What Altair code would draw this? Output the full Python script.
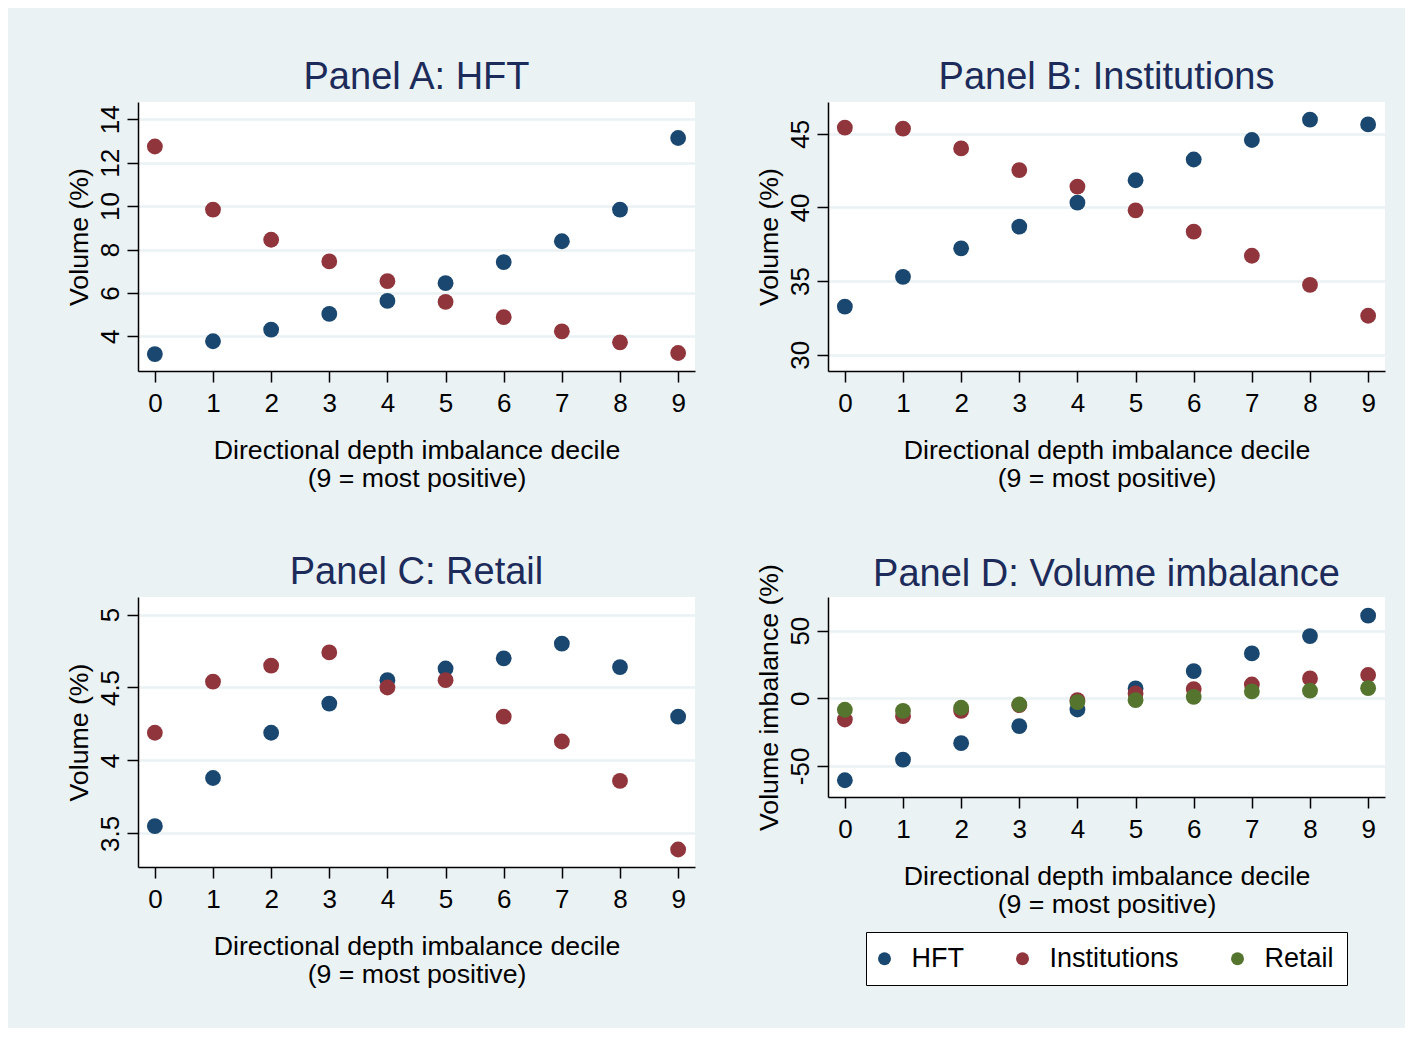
import altair as alt
import pandas as pd

deciles = list(range(10))
series_names = ["HFT", "Institutions", "Retail"]
series_colors = ["#1A476F", "#90353B", "#55752F"]

a_hft = [3.18, 3.77, 4.31, 5.03, 5.63, 6.45, 7.42, 8.38, 9.84, 13.14]
a_inst = [12.75, 9.84, 8.45, 7.45, 6.54, 5.59, 4.88, 4.23, 3.72, 3.23]
b_hft = [33.27, 35.29, 37.22, 38.69, 40.32, 41.84, 43.25, 44.57, 45.95, 45.63]
b_inst = [45.41, 45.34, 44.0, 42.53, 41.41, 39.80, 38.35, 36.72, 34.74, 32.65]
c_hft = [3.55, 3.88, 4.19, 4.39, 4.55, 4.63, 4.70, 4.80, 4.64, 4.30]
c_inst = [4.19, 4.54, 4.65, 4.74, 4.50, 4.55, 4.30, 4.13, 3.86, 3.39]
d_hft = [-60.6, -45.3, -33.2, -20.6, -8.3, 7.3, 20.1, 33.2, 46.0, 61.1]
d_inst = [-15.7, -13.2, -9.3, -5.1, -1.4, 3.6, 6.8, 10.2, 14.7, 17.2]
d_retail = [-8.5, -9.3, -7.0, -4.6, -2.8, -1.4, 1.1, 5.1, 5.6, 7.5]

a_ticks = [4, 6, 8, 10, 12, 14]
b_ticks = [30, 35, 40, 45]
c_ticks = [3.5, 4, 4.5, 5]
d_ticks = [-50, 0, 50]

x_title = ["Directional depth imbalance decile", "(9 = most positive)"]
FONT = "Liberation Sans"
BG = "#EAF2F3"
TITLE_COLOR = "#1C2B5A"


def make_df(pairs):
    rows = []
    for name, vals in pairs:
        for d, v in zip(deciles, vals):
            rows.append({"decile": d, "value": v, "series": name})
    return pd.DataFrame(rows)


color_scale = alt.Scale(domain=series_names, range=series_colors)


def panel(df, title, ytitle, ydomain, yticks, height, title_offset=5, legend=None):
    return alt.Chart(df).mark_circle(size=250, opacity=1).encode(
        x=alt.X("decile:Q",
                scale=alt.Scale(domain=[-0.29, 9.29], nice=False, zero=False),
                axis=alt.Axis(values=deciles, title=x_title, grid=False,
                              labelPadding=8, titlePadding=21,
                              labelExpr="datum.value + ''")),
        y=alt.Y("value:Q",
                scale=alt.Scale(domain=ydomain, nice=False, zero=False),
                axis=alt.Axis(values=yticks, title=ytitle, grid=True,
                              labelPadding=4, titlePadding=4,
                              labelAngle=270, labelExpr="datum.value + ''")),
        color=alt.Color("series:N", scale=color_scale, legend=legend),
    ).properties(
        width=557, height=height,
        title=alt.TitleParams(title, fontSize=38, font=FONT, color=TITLE_COLOR,
                              fontWeight="normal", anchor="middle", frame="group",
                              offset=title_offset),
    )


legend_d = alt.Legend(orient="none", legendX=38, legendY=335, direction="horizontal",
                      title=None, strokeColor="black", fillColor="white", padding=13,
                      labelFontSize=27, labelFont=FONT, labelColor="black",
                      symbolSize=169, symbolType="circle", symbolStrokeWidth=0,
                      symbolOpacity=1, symbolOffset=-8, labelOffset=13.5,
                      columnPadding=52, cornerRadius=0)

pa = panel(make_df([("HFT", a_hft), ("Institutions", a_inst)]),
           "Panel A: HFT", "Volume (%)", [2.4, 14.8], a_ticks, 269)
pb = panel(make_df([("HFT", b_hft), ("Institutions", b_inst)]),
           "Panel B: Institutions", "Volume (%)", [28.9, 47.15], b_ticks, 269)
pc = panel(make_df([("HFT", c_hft), ("Institutions", c_inst)]),
           "Panel C: Retail", "Volume (%)", [3.27, 5.12], c_ticks, 270)
pd_ = panel(make_df([("HFT", d_hft), ("Institutions", d_inst), ("Retail", d_retail)]),
            "Panel D: Volume imbalance", "Volume imbalance (%)", [-73, 74.9], d_ticks, 200,
            title_offset=-30.5, legend=legend_d)

chart = alt.concat(pa, pb, pc, pd_, columns=2, spacing={"row": 226, "column": 133},
                   bounds="flush").resolve_scale(color="independent").properties(
    padding={"left": 58, "top": 51, "right": 20, "bottom": 40},
    background=BG,
).configure_view(fill="white", stroke=None).configure_axis(
    domainColor="black", domainWidth=1.5, tickColor="black", tickWidth=1.5, tickSize=11,
    labelFont=FONT, labelFontSize=26, labelColor="black",
    titleFont=FONT, titleFontSize=26.7, titleFontWeight="normal", titleColor="black",
    titleLineHeight=28,
    gridColor=BG, gridWidth=2.5,
)

chart.save("out.html", embed_options={"renderer": "svg", "actions": False})
